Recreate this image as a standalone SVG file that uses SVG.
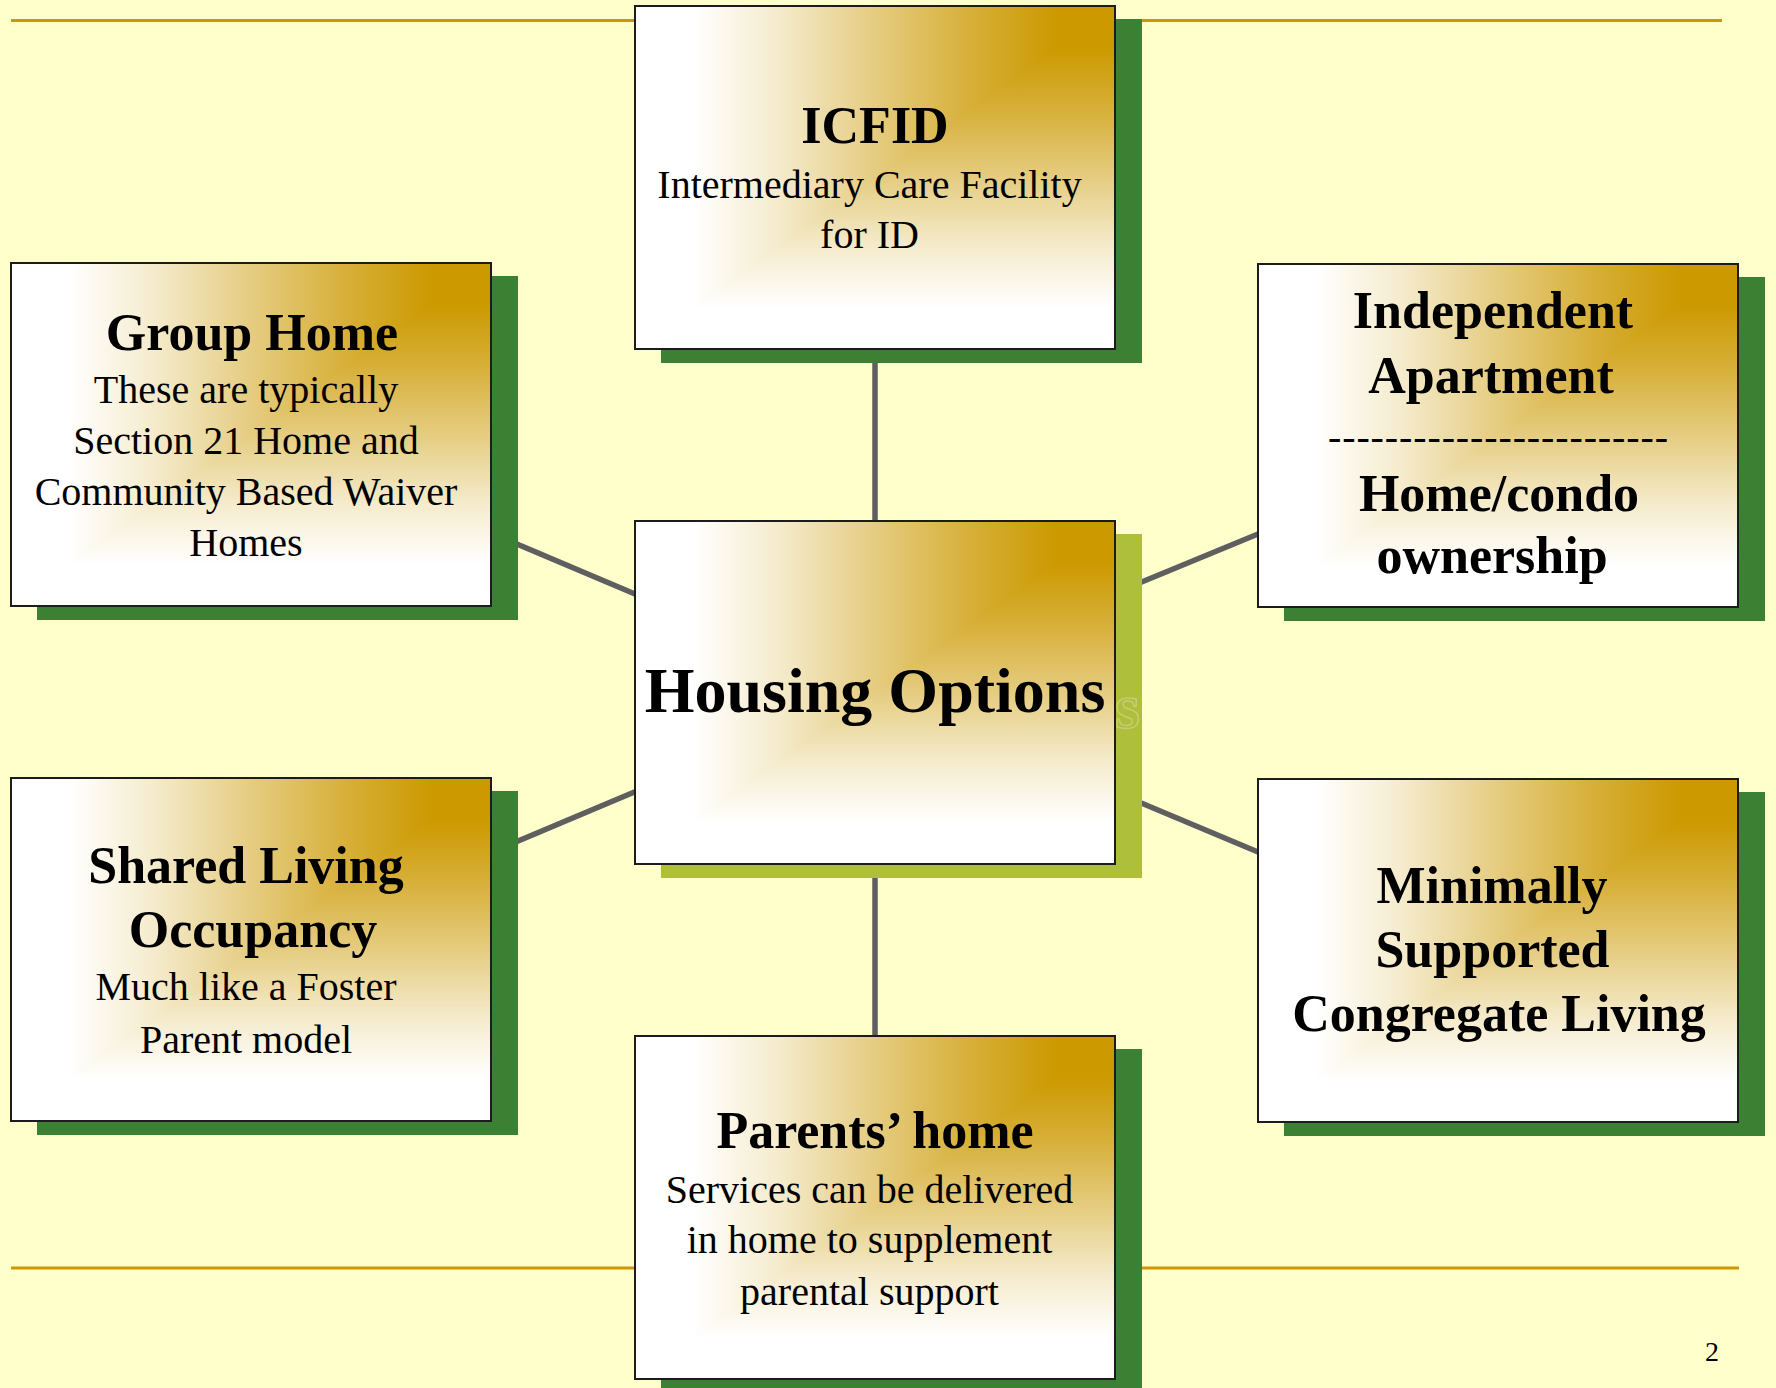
<svg xmlns="http://www.w3.org/2000/svg" width="1776" height="1388" viewBox="0 0 1776 1388">
<style>
  .bg{fill:#FFFFCC}
  .rule{stroke:#CC9900;stroke-width:3;fill:none}
  .conn{stroke:#5F5F5F;stroke-width:5.5;fill:none}
  .shadow{fill:#3C8033}
  .shadow-hub{fill:#AEBF3B}
  .frame{fill:none;stroke:#1C1C1C;stroke-width:2}
  text{font-family:"Liberation Serif","Times New Roman",serif;fill:#000;text-anchor:middle}
  .head{font-size:52px;font-weight:bold}
  .body{font-size:40px}
  .hub{font-size:64px;font-weight:bold}
  .ghost{font-size:64px;font-weight:bold;fill:none;stroke:#C6CC72;stroke-width:1.6;text-anchor:start}
  .page{font-size:28px}
</style>
<defs>
  <!-- corner fill: gold in the top-right corner fading to white (rectangular path gradient) -->
  <linearGradient id="fadeX" x1="0" y1="0" x2="1" y2="0">
    <stop offset="0" stop-color="#FFFFFF"/>
    <stop offset="0.12" stop-color="#FFFFFF"/>
    <stop offset="0.3" stop-color="#F5EBCC"/>
    <stop offset="0.5" stop-color="#E5CC80"/>
    <stop offset="0.7" stop-color="#D7AF38"/>
    <stop offset="0.88" stop-color="#CC9900"/>
    <stop offset="1" stop-color="#CC9900"/>
  </linearGradient>
  <linearGradient id="fadeY" x1="0" y1="0" x2="0" y2="1">
    <stop offset="0" stop-color="#CC9900"/>
    <stop offset="0.12" stop-color="#CC9900"/>
    <stop offset="0.3" stop-color="#D7AF38"/>
    <stop offset="0.5" stop-color="#E5CC80"/>
    <stop offset="0.7" stop-color="#F5EBCC"/>
    <stop offset="0.88" stop-color="#FFFFFF"/>
    <stop offset="1" stop-color="#FFFFFF"/>
  </linearGradient>
  <g id="face">
    <rect width="480" height="343" fill="url(#fadeY)"/>
    <polygon points="0,0 480,0 0,343" fill="url(#fadeX)"/>
    <rect width="480" height="343" class="frame"/>
  </g>
</defs>

<rect class="bg" x="0" y="0" width="1776" height="1388"/>

<!-- page rules -->
<g id="rules">
  <line class="rule" x1="11" y1="20.5" x2="1722" y2="20.5"/>
  <line class="rule" x1="11" y1="1268" x2="1739" y2="1268"/>
</g>

<!-- connectors -->
<g id="connectors">
  <line class="conn" x1="875" y1="349" x2="875" y2="521"/>
  <line class="conn" x1="875" y1="864" x2="875" y2="1036"/>
  <line class="conn" x1="491" y1="533" x2="635" y2="594"/>
  <line class="conn" x1="491" y1="852.5" x2="635" y2="791.7"/>
  <line class="conn" x1="1115" y1="593" x2="1258" y2="534"/>
  <line class="conn" x1="1115" y1="792" x2="1258" y2="852"/>
</g>

<!-- nodes -->
<g id="node-icfid" transform="translate(635,6)">
  <rect class="shadow" x="26" y="13" width="481" height="344"/>
  <use href="#face"/>
  <text class="head" x="240" y="137">ICFID</text>
  <text class="body" x="234.5" y="192">Intermediary Care Facility</text>
  <text class="body" x="234.5" y="242">for ID</text>
</g>

<g id="node-housing" transform="translate(635,521)">
  <rect class="shadow-hub" x="26" y="13" width="481" height="344"/>
  <text class="ghost" x="480" y="207">s</text>
  <use href="#face"/>
  <text class="hub" x="240" y="191">Housing Options</text>
</g>

<g id="node-group-home" transform="translate(11,263)">
  <rect class="shadow" x="26" y="13" width="481" height="344"/>
  <use href="#face"/>
  <text class="head" x="241" y="87">Group Home</text>
  <text class="body" x="235" y="140">These are typically</text>
  <text class="body" x="235" y="191">Section 21 Home and</text>
  <text class="body" x="235" y="242">Community Based Waiver</text>
  <text class="body" x="235" y="293">Homes</text>
</g>

<g id="node-independent" transform="translate(1258,264)">
  <rect class="shadow" x="26" y="13" width="481" height="344"/>
  <use href="#face"/>
  <text class="head" x="235" y="64">Independent</text>
  <text class="head" x="233" y="129">Apartment</text>
  <text class="body" x="240" y="186" textLength="340" lengthAdjust="spacing">------------------------</text>
  <text class="head" x="241" y="247">Home/condo</text>
  <text class="head" x="234" y="309">ownership</text>
</g>

<g id="node-shared-living" transform="translate(11,778)">
  <rect class="shadow" x="26" y="13" width="481" height="344"/>
  <use href="#face"/>
  <text class="head" x="235" y="105">Shared Living</text>
  <text class="head" x="242" y="169">Occupancy</text>
  <text class="body" x="235" y="222">Much like a Foster</text>
  <text class="body" x="235" y="275">Parent model</text>
</g>

<g id="node-minimally-supported" transform="translate(1258,779)">
  <rect class="shadow" x="26" y="13" width="481" height="344"/>
  <use href="#face"/>
  <text class="head" x="234" y="124">Minimally</text>
  <text class="head" x="234.5" y="188">Supported</text>
  <text class="head" x="241" y="252">Congregate Living</text>
</g>

<g id="node-parents-home" transform="translate(635,1036)">
  <rect class="shadow" x="26" y="13" width="481" height="344"/>
  <use href="#face"/>
  <text class="head" x="240" y="112">Parents’ home</text>
  <text class="body" x="234.5" y="167">Services can be delivered</text>
  <text class="body" x="234.5" y="217">in home to supplement</text>
  <text class="body" x="234.5" y="269">parental support</text>
</g>

<text class="page" x="1712" y="1361">2</text>
</svg>
